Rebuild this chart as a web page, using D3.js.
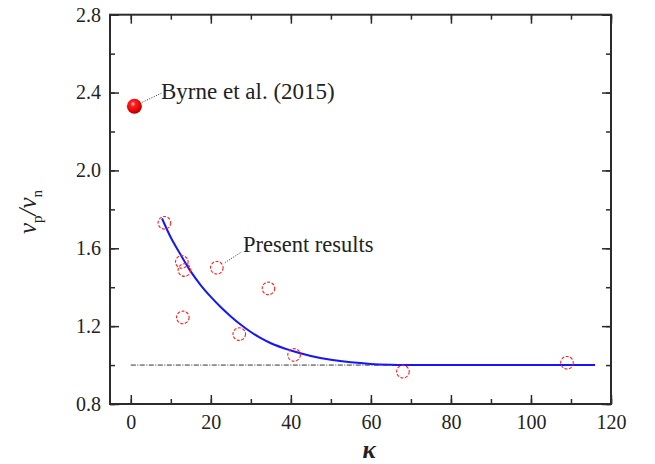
<!DOCTYPE html>
<html>
<head>
<meta charset="utf-8">
<script src="https://cdn.jsdelivr.net/npm/d3@7"></script>
<style>
  html, body { margin: 0; padding: 0; background: #fff; }
  svg { display: block; }
  text { font-family: "Liberation Serif", "Times New Roman", Times, serif; fill: #222; }
</style>
</head>
<body>
<svg id="chart" width="655" height="464"></svg>
<script>
// Present results: kappa vs velocity ratio
const kappa = [8.4, 12.75, 13.4, 13.0, 21.5, 34.4, 27.1, 40.8, 68.0, 109.0];
const ratio = [1.731, 1.530, 1.488, 1.245, 1.50, 1.394, 1.159, 1.052, 0.966, 1.012];

// Reference measurement (Byrne et al., 2015)
const byrneKappa = [0.9];
const byrneRatio = [2.33];

// Fitted trend line through the present results
const fitKappa = [7.8, 10, 12.5, 15, 17.5, 20, 22.5, 25, 27.5, 30, 32.5, 35, 40, 45, 50, 55, 60, 65, 70, 80, 90, 100, 110, 116];
const fitRatio = [1.753, 1.655, 1.565, 1.48, 1.41, 1.35, 1.297, 1.25, 1.207, 1.17, 1.138, 1.112, 1.075, 1.047, 1.027, 1.014, 1.006, 1.002, 1.0, 1.0, 1.0, 1.0, 1.0, 1.0];

// Baseline ratio of 1
const baseKappa = [0, 116];
const baseRatio = [1, 1];

const xTicks = [0, 20, 40, 60, 80, 100, 120];
const yTicks = [0.8, 1.2, 1.6, 2.0, 2.4, 2.8];

const svg = d3.select("#chart");
const plotLeft = 110, plotRight = 611, plotTop = 14.7, plotBottom = 404;
const serif = '"Liberation Serif", "Times New Roman", Times, serif';

const x = d3.scaleLinear().domain([-5.2, 120]).range([plotLeft, plotRight]);
const y = d3.scaleLinear().domain([0.8, 2.8]).range([plotBottom, plotTop]);

const defs = svg.append("defs");
const grad = defs.append("radialGradient").attr("id", "sphere")
  .attr("cx", "40%").attr("cy", "35%").attr("r", "65%");
grad.append("stop").attr("offset", "0%").attr("stop-color", "#ffd0d0");
grad.append("stop").attr("offset", "25%").attr("stop-color", "#ff2020");
grad.append("stop").attr("offset", "80%").attr("stop-color", "#e00000");
grad.append("stop").attr("offset", "100%").attr("stop-color", "#a00000");

// Axes with inward ticks on all four sides
const frameColor = "#2b2b2b";
function styleAxis(g) {
  g.select(".domain").remove();
  g.attr("font-family", serif);
  g.selectAll(".tick line").attr("stroke", frameColor).attr("stroke-width", 1.5);
  g.selectAll("text").attr("font-size", 20).attr("fill", "#222");
}
const xMinor = d3.range(0, 121, 10);
const yMinor = d3.range(0.8, 2.81, 0.2);

svg.append("g").attr("transform", `translate(0,${plotBottom})`)
  .call(d3.axisBottom(x).tickValues(xMinor).tickSize(-5).tickFormat(""))
  .call(styleAxis);
svg.append("g").attr("transform", `translate(0,${plotBottom})`)
  .call(d3.axisBottom(x).tickValues(xTicks).tickSize(-9).tickPadding(11).tickFormat(d3.format("d")))
  .call(styleAxis);
svg.append("g").attr("transform", `translate(0,${plotTop})`)
  .call(d3.axisTop(x).tickValues(xMinor).tickSize(-5).tickFormat(""))
  .call(styleAxis);
svg.append("g").attr("transform", `translate(0,${plotTop})`)
  .call(d3.axisTop(x).tickValues(xTicks).tickSize(-9).tickFormat(""))
  .call(styleAxis);

svg.append("g").attr("transform", `translate(${plotLeft},0)`)
  .call(d3.axisLeft(y).tickValues(yMinor).tickSize(-5).tickFormat(""))
  .call(styleAxis);
svg.append("g").attr("transform", `translate(${plotLeft},0)`)
  .call(d3.axisLeft(y).tickValues(yTicks).tickSize(-9).tickPadding(9).tickFormat(d3.format(".1f")))
  .call(styleAxis);
svg.append("g").attr("transform", `translate(${plotRight},0)`)
  .call(d3.axisRight(y).tickValues(yMinor).tickSize(-5).tickFormat(""))
  .call(styleAxis);
svg.append("g").attr("transform", `translate(${plotRight},0)`)
  .call(d3.axisRight(y).tickValues(yTicks).tickSize(-9).tickFormat(""))
  .call(styleAxis);

svg.append("rect")
  .attr("x", plotLeft).attr("y", plotTop)
  .attr("width", plotRight - plotLeft).attr("height", plotBottom - plotTop)
  .attr("fill", "none").attr("stroke", frameColor).attr("stroke-width", 2);

// Baseline at ratio 1
svg.append("path")
  .datum(baseKappa.map((k, i) => [k, baseRatio[i]]))
  .attr("d", d3.line().x(d => x(d[0])).y(d => y(d[1])))
  .attr("fill", "none").attr("stroke", "#333").attr("stroke-width", 1)
  .attr("stroke-dasharray", "5,1.5,1,1.5");

// Trend line
svg.append("path")
  .datum(fitKappa.map((k, i) => [k, fitRatio[i]]))
  .attr("d", d3.line().x(d => x(d[0])).y(d => y(d[1])).curve(d3.curveMonotoneX))
  .attr("fill", "none").attr("stroke", "#1515ff").attr("stroke-width", 2);

// Present results (open circles)
svg.append("g").selectAll("circle")
  .data(kappa.map((k, i) => [k, ratio[i]]))
  .join("circle")
  .attr("cx", d => x(d[0])).attr("cy", d => y(d[1])).attr("r", 6.3)
  .attr("fill", "none").attr("stroke", "#ff2020").attr("stroke-width", 1.1)
  .attr("stroke-dasharray", "3,1.6");

// Byrne et al. point (shaded sphere)
svg.append("g").selectAll("circle")
  .data(byrneKappa.map((k, i) => [k, byrneRatio[i]]))
  .join("circle")
  .attr("cx", d => x(d[0])).attr("cy", d => y(d[1])).attr("r", 7.5)
  .attr("fill", "url(#sphere)");

// Annotations with dotted leaders
const bx = x(byrneKappa[0]), by = y(byrneRatio[0]);
svg.append("line")
  .attr("x1", bx + 8).attr("y1", by - 4).attr("x2", bx + 27).attr("y2", by - 13)
  .attr("stroke", "#333").attr("stroke-width", 1).attr("stroke-dasharray", "1,1.5");
svg.append("text").attr("x", 161).attr("y", 99).attr("font-size", 23)
  .attr("font-family", serif)
  .text("Byrne et al. (2015)");

const px = x(kappa[4]), py = y(ratio[4]);
svg.append("line")
  .attr("x1", px + 8).attr("y1", py - 5).attr("x2", px + 25).attr("y2", py - 16)
  .attr("stroke", "#333").attr("stroke-width", 1).attr("stroke-dasharray", "1,1.5");
svg.append("text").attr("x", 243).attr("y", 252).attr("font-size", 22.5)
  .attr("font-family", serif)
  .text("Present results");

// Axis titles
svg.append("text")
  .attr("x", 369).attr("y", 458).attr("text-anchor", "middle")
  .attr("font-family", serif)
  .attr("font-size", 25).attr("font-style", "italic").attr("font-weight", "bold")
  .text("κ");

const yTitle = svg.append("text")
  .attr("transform", "translate(36,212) rotate(-90)")
  .attr("font-family", serif)
  .attr("text-anchor", "middle").attr("font-size", 25).attr("font-style", "italic");
yTitle.append("tspan").text("ν");
yTitle.append("tspan").attr("font-size", 15).attr("font-style", "normal").attr("dy", 6).text("p");
yTitle.append("tspan").attr("dy", -6).text("/");
yTitle.append("tspan").text("ν");
yTitle.append("tspan").attr("font-size", 15).attr("font-style", "normal").attr("dy", 6).text("n");
</script>
</body>
</html>
